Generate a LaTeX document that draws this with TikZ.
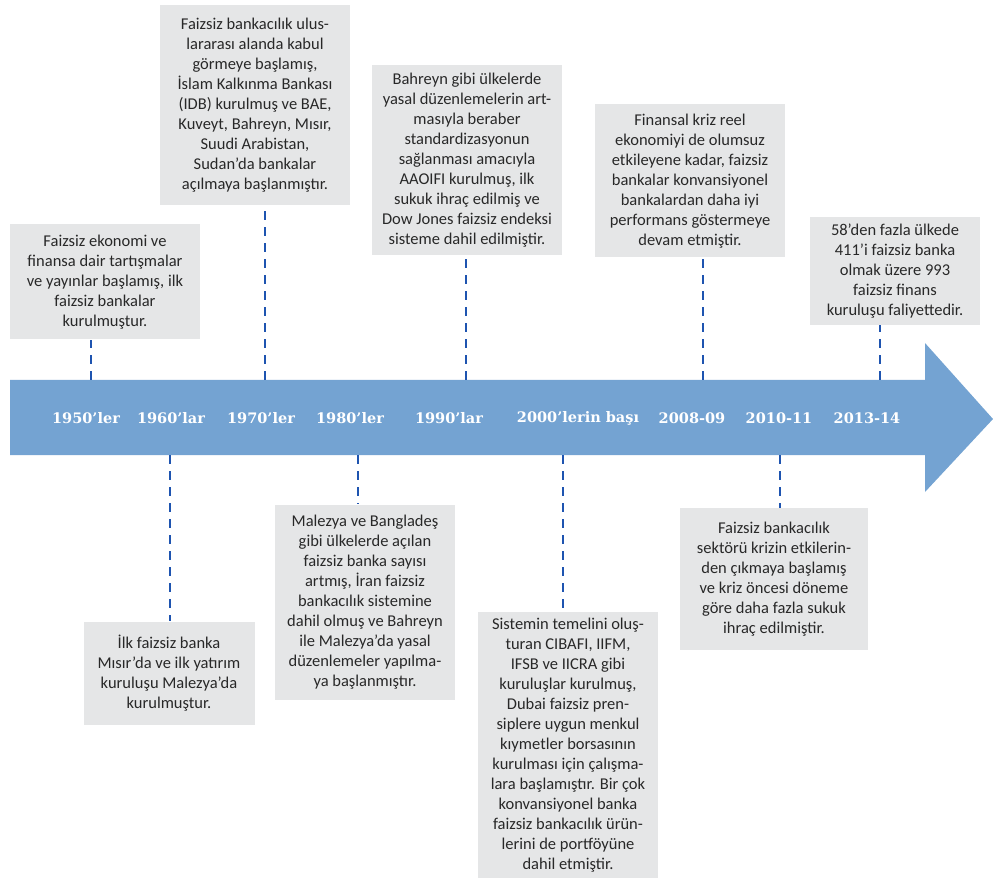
\documentclass[tikz,border=0pt]{standalone}
\usepackage{fontspec}
\setmainfont{Carlito}
\newfontfamily\yearfont{DejaVu Serif}
\usepackage{tikz}

\definecolor{boxgray}{RGB}{229,230,231}
\definecolor{arrowblue}{RGB}{116,163,210}
\definecolor{dashblue}{RGB}{30,84,176}
\definecolor{textgray}{RGB}{40,40,40}

\begin{document}
\begin{tikzpicture}[x=1pt,y=-1pt,
		event/.style={fill=boxgray, text=textgray, align=center, inner sep=0pt, font=\fontsize{16.5}{20}\selectfont},
		year/.style={text=white, font=\yearfont\bfseries\fontsize{14.5}{16}\selectfont},
		dashline/.style={dashblue, line width=2pt, dash pattern=on 9pt off 7pt}]
						\useasboundingbox (0,0) rectangle (993,882);
						
						% Draw the timeline arrow
						\fill[arrowblue] (10,380) -- (925,380) -- (925,343) -- (993,419) -- (925,492) -- (925,455) -- (10,455) -- cycle;
						
						% Define the points on the arrow edges
						\coordinate (t50) at (91,380);
						\coordinate (t70) at (265,380);
						\coordinate (t90) at (466,380);
						\coordinate (t08) at (703,380);
						\coordinate (t13) at (880,380);
						\coordinate (u60) at (170,455);
						\coordinate (u80) at (358,455);
						\coordinate (u00) at (563,455);
						\coordinate (u10) at (780,455);
						
						% Years on the arrow
						\node[year] (y50) at (86,418) {1950’ler};
						\node[year] (y60) at (171,418) {1960’lar};
						\node[year] (y70) at (261,418) {1970’ler};
						\node[year] (y80) at (350,418) {1980’ler};
						\node[year] (y90) at (449,418) {1990’lar};
						\node[year] (y00) at (578,418) {2000’lerin başı};
						\node[year] (y08) at (692,418) {2008-09};
						\node[year] (y10) at (779,418) {2010-11};
						\node[year] (y13) at (867,418) {2013-14};
						
						% Events above the arrow
						\node[event, minimum width=190pt, minimum height=115pt] (b50) at (105,282) {Faizsiz ekonomi ve\\finansa dair tartışmalar\\ve yayınlar başlamış, ilk\\faizsiz bankalar\\kurulmuştur.};
						\node[event, minimum width=190pt, minimum height=200pt] (b70) at (255,105) {Faizsiz bankacılık ulus-\\lararası alanda kabul\\görmeye başlamış,\\İslam Kalkınma Bankası\\(IDB) kurulmuş ve BAE,\\Kuveyt, Bahreyn, Mısır,\\Suudi Arabistan,\\Sudan’da bankalar\\açılmaya başlanmıştır.};
						\node[event, minimum width=190pt, minimum height=190pt] (b90) at (467,160) {Bahreyn gibi ülkelerde\\yasal düzenlemelerin art-\\masıyla beraber\\standardizasyonun\\sağlanması amacıyla\\AAOIFI kurulmuş, ilk\\sukuk ihraç edilmiş ve\\Dow Jones faizsiz endeksi\\sisteme dahil edilmiştir.};
						\node[event, minimum width=190pt, minimum height=153pt] (b08) at (690,181) {Finansal kriz reel\\ekonomiyi de olumsuz\\etkileyene kadar, faizsiz\\bankalar konvansiyonel\\bankalardan daha iyi\\performans göstermeye\\devam etmiştir.};
						\node[event, minimum width=170pt, minimum height=108pt] (b13) at (895,271) {58’den fazla ülkede\\411’i faizsiz banka\\olmak üzere 993\\faizsiz finans\\kuruluşu faliyettedir.};
						
						% Events below the arrow
						\node[event, minimum width=171pt, minimum height=103pt] (b60) at (169,673) {İlk faizsiz banka\\Mısır’da ve ilk yatırım\\kuruluşu Malezya’da\\kurulmuştur.};
						\node[event, minimum width=180pt, minimum height=195pt] (b80) at (365,602) {Malezya ve Bangladeş\\gibi ülkelerde açılan\\faizsiz banka sayısı\\artmış, İran faizsiz\\bankacılık sistemine\\dahil olmuş ve Bahreyn\\ile Malezya’da yasal\\düzenlemeler yapılma-\\ya başlanmıştır.};
						\node[event, minimum width=180pt, minimum height=266pt] (b00) at (568,745) {Sistemin temelini oluş-\\turan CIBAFI, IIFM,\\IFSB ve IICRA gibi\\kuruluşlar kurulmuş,\\Dubai faizsiz pren-\\siplere uygun menkul\\kıymetler borsasının\\kurulması için çalışma-\\lara başlamıştır. Bir çok\\konvansiyonel banka\\faizsiz bankacılık ürün-\\lerini de portföyüne\\dahil etmiştir.};
						\node[event, minimum width=188pt, minimum height=142pt] (b10) at (774,579) {Faizsiz bankacılık\\sektörü krizin etkilerin-\\den çıkmaya başlamış\\ve kriz öncesi döneme\\göre daha fazla sukuk\\ihraç edilmiştir.};
						
						% Draw the dashed links
						\draw[dashline] (t50) -- (t50 |- b50.south);
						\draw[dashline] (t70) -- (t70 |- b70.south);
						\draw[dashline] (t90) -- (t90 |- b90.south);
						\draw[dashline] (t08) -- (t08 |- b08.south);
						\draw[dashline] (t13) -- (t13 |- b13.south);
						\draw[dashline] (u60) -- (u60 |- b60.north);
						\draw[dashline] (u80) -- (u80 |- b80.north);
						\draw[dashline] (u00) -- (u00 |- b00.north);
						\draw[dashline] (u10) -- (u10 |- b10.north);
					\end{tikzpicture}
\end{document}
